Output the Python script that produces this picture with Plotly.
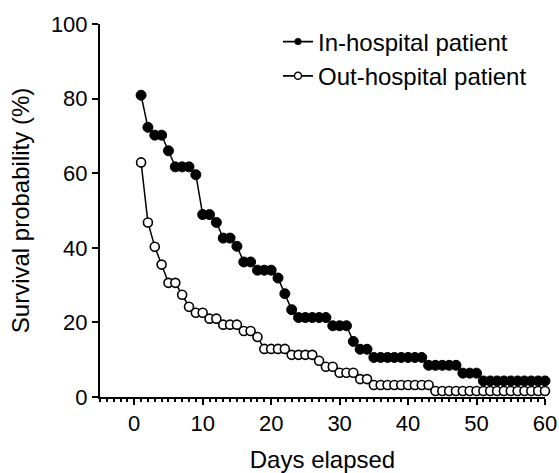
import plotly.graph_objects as go

days = [1, 2, 3, 4, 5, 6, 7, 8, 9, 10, 11, 12, 13, 14, 15, 16, 17, 18, 19, 20,
        21, 22, 23, 24, 25, 26, 27, 28, 29, 30, 31, 32, 33, 34, 35, 36, 37, 38, 39, 40,
        41, 42, 43, 44, 45, 46, 47, 48, 49, 50, 51, 52, 53, 54, 55, 56, 57, 58, 59, 60]

in_hospital = [80.9, 72.3, 70.2, 70.2, 66.0, 61.7, 61.7, 61.7, 59.6, 48.9,
               48.9, 46.8, 42.6, 42.6, 40.4, 36.2, 36.2, 34.0, 34.0, 34.0,
               31.9, 27.7, 23.4, 21.3, 21.3, 21.3, 21.3, 21.3, 19.1, 19.1,
               19.1, 14.9, 12.8, 12.8, 10.6, 10.6, 10.6, 10.6, 10.6, 10.6,
               10.6, 10.6, 8.5, 8.5, 8.5, 8.5, 8.5, 6.4, 6.4, 6.4,
               4.3, 4.3, 4.3, 4.3, 4.3, 4.3, 4.3, 4.3, 4.3, 4.3]

out_hospital = [62.9, 46.8, 40.3, 35.5, 30.6, 30.6, 27.4, 24.2, 22.6, 22.6,
                21.0, 21.0, 19.4, 19.4, 19.4, 17.7, 17.7, 16.1, 12.9, 12.9,
                12.9, 12.9, 11.3, 11.3, 11.3, 11.3, 9.7, 8.1, 8.1, 6.5,
                6.5, 6.5, 4.8, 4.8, 3.2, 3.2, 3.2, 3.2, 3.2, 3.2,
                3.2, 3.2, 3.2, 1.6, 1.6, 1.6, 1.6, 1.6, 1.6, 1.6,
                1.6, 1.6, 1.6, 1.6, 1.6, 1.6, 1.6, 1.6, 1.6, 1.6]

series_names = ["In-hospital patient", "Out-hospital patient"]
y_ticks = [0, 20, 40, 60, 80, 100]
x_ticks = [0, 10, 20, 30, 40, 50, 60]

FONT = "Liberation Sans, Arial, sans-serif"

fig = go.Figure()

fig.add_trace(go.Scatter(
    x=days, y=out_hospital, mode="lines+markers", showlegend=False,
    line=dict(color="black", width=1.5),
    marker=dict(symbol="circle", size=9, color="white", line=dict(color="black", width=1.6)),
    cliponaxis=False,
))
fig.add_trace(go.Scatter(
    x=days, y=in_hospital, mode="lines+markers", showlegend=False,
    line=dict(color="black", width=1.5),
    marker=dict(symbol="circle", size=10, color="black", line=dict(color="black", width=1)),
    cliponaxis=False,
))

# legend entries
fig.add_trace(go.Scatter(
    x=[None], y=[None], mode="lines+markers", name=series_names[0],
    line=dict(color="black", width=1.8),
    marker=dict(symbol="circle", size=7, color="black"),
))
fig.add_trace(go.Scatter(
    x=[None], y=[None], mode="lines+markers", name=series_names[1],
    line=dict(color="black", width=1.8),
    marker=dict(symbol="circle", size=7, color="white", line=dict(color="black", width=1.4)),
))

fig.update_layout(
    width=559, height=473,
    margin=dict(l=100, r=14, t=24, b=76, autoexpand=False),
    paper_bgcolor="white", plot_bgcolor="white",
    font=dict(family=FONT, color="black", size=22),
    legend=dict(
        x=0.40, y=1.012, xanchor="left", yanchor="top",
        font=dict(family=FONT, size=24, color="black"),
        bgcolor="rgba(0,0,0,0)", itemwidth=30, tracegroupgap=0,
    ),
    xaxis=dict(
        range=[-5, 60], tickmode="array", tickvals=x_ticks,
        showgrid=False, zeroline=False,
        showline=True, linecolor="black", linewidth=2,
        ticks="outside", ticklen=6, tickwidth=2, tickcolor="black",
        tickfont=dict(size=22, family=FONT),
        minor=dict(ticks="outside", dtick=1, tick0=0, ticklen=3, tickwidth=1.5, tickcolor="black", showgrid=False),
        title=dict(text="Days elapsed", font=dict(size=24, family=FONT), standoff=16),
        automargin=False,
    ),
    yaxis=dict(
        range=[0, 100], tickmode="array", tickvals=y_ticks,
        showgrid=False, zeroline=False,
        showline=True, linecolor="black", linewidth=2,
        ticks="outside", ticklen=6, tickwidth=2, tickcolor="black",
        tickfont=dict(size=22, family=FONT),
        title=dict(text="Survival probability (%)", font=dict(size=24, family=FONT), standoff=14),
        automargin=False,
    ),
)

fig.write_html("out.html")
